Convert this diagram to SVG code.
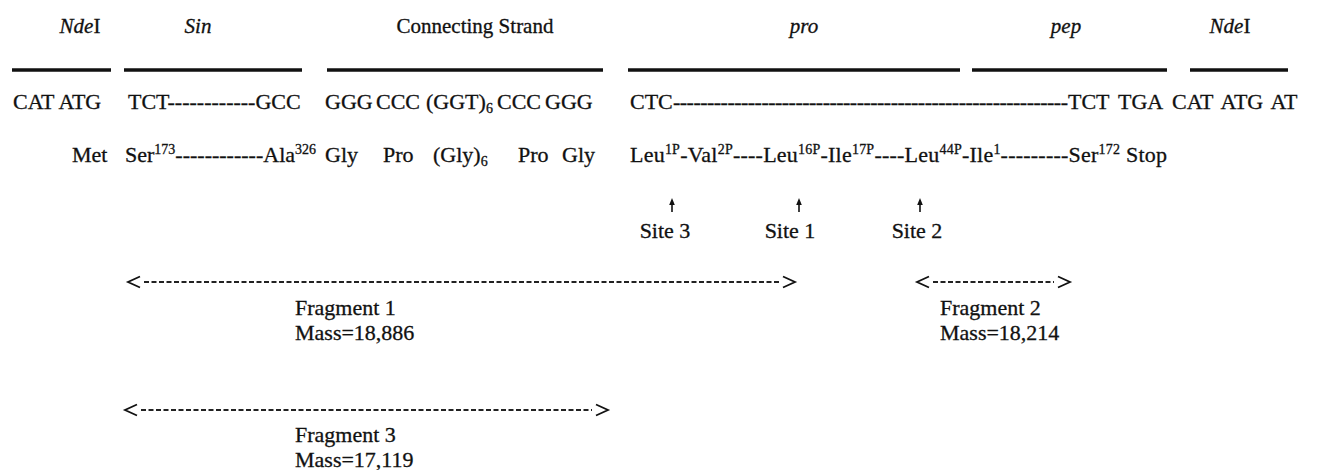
<svg xmlns="http://www.w3.org/2000/svg" width="1320" height="470" viewBox="0 0 1320 470">
<defs>
<style>
text{font-family:"Liberation Serif","Times New Roman",serif;font-size:22px;fill:#111;stroke:#111;stroke-width:0.3}
.h{font-size:21px}
.i{font-style:italic}
.s{font-size:14px}
.bar{stroke:#111;stroke-width:3.6;fill:none}
.frag{stroke:#222;stroke-width:1.9;stroke-dasharray:5 2.5;fill:none}
.chev{stroke:#111;stroke-width:1.8;fill:none}
.tick{stroke:#111;stroke-width:1.6;fill:none}
.head{fill:#111}
</style>
<marker id="lt" viewBox="0 0 14 14" refX="17" refY="7" markerWidth="14" markerHeight="14" markerUnits="userSpaceOnUse" orient="auto" overflow="visible"><polyline class="chev" points="13,1.5 1,7 13,12.5"/></marker>
<marker id="gt" viewBox="0 0 14 14" refX="-3" refY="7" markerWidth="14" markerHeight="14" markerUnits="userSpaceOnUse" orient="auto" overflow="visible"><polyline class="chev" points="1,1.5 13,7 1,12.5"/></marker>
</defs>

<g id="header-ndeI-left"><text class="h" x="80" y="33" text-anchor="middle"><tspan class="i">Nde</tspan>I</text><line class="bar" x1="12" y1="70" x2="111" y2="70"/></g>
<g id="header-sin"><text class="h i" x="198" y="33" text-anchor="middle">Sin</text><line class="bar" x1="124" y1="70" x2="302" y2="70"/></g>
<g id="header-connecting"><text class="h" x="475" y="33" text-anchor="middle">Connecting Strand</text><line class="bar" x1="327" y1="70" x2="603" y2="70"/></g>
<g id="header-pro"><text class="h i" x="804" y="33" text-anchor="middle">pro</text><line class="bar" x1="628" y1="70" x2="960" y2="70"/></g>
<g id="header-pep"><text class="h i" x="1066" y="33" text-anchor="middle">pep</text><line class="bar" x1="972" y1="70" x2="1167" y2="70"/></g>
<g id="header-ndeI-right"><text class="h" x="1230" y="33" text-anchor="middle"><tspan class="i">Nde</tspan>I</text><line class="bar" x1="1190" y1="70" x2="1288" y2="70"/></g>

<g id="dna-row">
<text x="13" y="109">CAT ATG</text>
<text x="128" y="109">TCT------------GCC</text>
<text y="109"><tspan x="325">GGG</tspan><tspan x="376">CCC</tspan><tspan x="426">(GGT)</tspan><tspan class="s" dy="4">6</tspan><tspan x="497" dy="-4">CCC</tspan><tspan x="545">GGG</tspan></text>
<text x="630" y="109">CTC</text>
<text x="673" y="109" textLength="395" lengthAdjust="spacing">----------------------------------------------------------</text>
<text y="109"><tspan x="1068">TCT</tspan><tspan x="1118">TGA</tspan></text>
<text x="1172" y="109" style="word-spacing:3px">CAT ATG AT</text>
</g>

<g id="protein-row">
<text x="72" y="162">Met</text>
<text y="162"><tspan x="125">Ser</tspan><tspan class="s" dy="-8">173</tspan><tspan dy="8">------------Ala</tspan><tspan class="s" dy="-8">326</tspan></text>
<text y="162"><tspan x="325">Gly</tspan><tspan x="383">Pro</tspan><tspan x="433">(Gly)</tspan><tspan class="s" dy="4">6</tspan><tspan x="518" dy="-4">Pro</tspan><tspan x="562">Gly</tspan></text>
<text x="630" y="162" textLength="537" lengthAdjust="spacing">Leu<tspan class="s" dy="-8">1P</tspan><tspan dy="8">-Val</tspan><tspan class="s" dy="-8">2P</tspan><tspan dy="8">----Leu</tspan><tspan class="s" dy="-8">16P</tspan><tspan dy="8">-Ile</tspan><tspan class="s" dy="-8">17P</tspan><tspan dy="8">----Leu</tspan><tspan class="s" dy="-8">44P</tspan><tspan dy="8">-Ile</tspan><tspan class="s" dy="-8">1</tspan><tspan dy="8">---------Ser</tspan><tspan class="s" dy="-8">172</tspan><tspan dy="8"> Stop</tspan></text>
</g>

<g id="site-3"><line class="tick" x1="672" y1="212" x2="672" y2="203"/><path class="head" d="M672,198 L674.8,205 L669.2,205 Z"/><text x="665" y="238" text-anchor="middle">Site 3</text></g>
<g id="site-1"><line class="tick" x1="799" y1="212" x2="799" y2="203"/><path class="head" d="M799,198 L801.8,205 L796.2,205 Z"/><text x="790" y="238" text-anchor="middle">Site 1</text></g>
<g id="site-2"><line class="tick" x1="920" y1="212" x2="920" y2="203"/><path class="head" d="M920,198 L922.8,205 L917.2,205 Z"/><text x="917" y="238" text-anchor="middle">Site 2</text></g>

<g id="connectors">
<line class="frag" x1="144" y1="282" x2="779" y2="282" marker-start="url(#lt)" marker-end="url(#gt)"/>
<line class="frag" x1="933" y1="282" x2="1054" y2="282" marker-start="url(#lt)" marker-end="url(#gt)"/>
<line class="frag" x1="141" y1="410" x2="592" y2="410" marker-start="url(#lt)" marker-end="url(#gt)"/>
</g>

<g id="fragment-1"><text x="295" y="315">Fragment 1</text><text x="295" y="340">Mass=18,886</text></g>
<g id="fragment-2"><text x="940" y="315">Fragment 2</text><text x="940" y="340">Mass=18,214</text></g>
<g id="fragment-3"><text x="295" y="442">Fragment 3</text><text x="295" y="467">Mass=17,119</text></g>
</svg>
